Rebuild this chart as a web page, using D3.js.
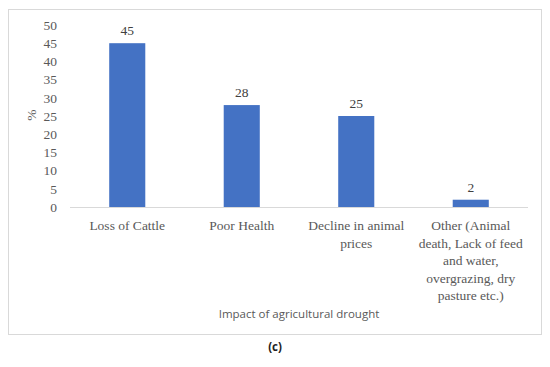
<!DOCTYPE html>
<html><head><meta charset="utf-8">
<script src="https://cdn.jsdelivr.net/npm/d3@7"></script>
<style>body{margin:0;background:#fff}svg{display:block}</style>
</head><body>
<script>
const categories = ["Loss of Cattle", "Poor Health", "Decline in animal\nprices", "Other (Animal\ndeath, Lack of feed\nand water,\novergrazing, dry\npasture etc.)"];
const values = [45, 28, 25, 2];
const yTicks = [0, 5, 10, 15, 20, 25, 30, 35, 40, 45, 50];
const yLabel = "%";
const xTitle = "Impact of agricultural drought";
const caption = "(c)";

const W = 550, H = 367;
const svg = d3.select("body").append("svg").attr("width", W).attr("height", H);
svg.append("rect").attr("x", 8.5).attr("y", 9.5).attr("width", 533).attr("height", 325)
  .attr("fill", "#fff").attr("stroke", "#d9d9d9").attr("stroke-width", 1);

const serif = "'Liberation Serif', 'Times New Roman', serif";
const x = d3.scaleBand().domain(categories).range([70, 528]).paddingInner(0.685).paddingOuter(0.3425);
const y = d3.scaleLinear().domain([0, 50]).range([207, 25]);

// y axis ticks
const ya = svg.append("g").attr("transform", "translate(70,0)")
  .call(d3.axisLeft(y).tickValues(yTicks).tickSize(0).tickPadding(13));
ya.select(".domain").remove();
ya.selectAll("text").attr("font-family", serif).attr("font-size", 13.5).attr("fill", "#595959");

// baseline
svg.append("line").attr("x1", 70).attr("x2", 528).attr("y1", y(0) + 0.5).attr("y2", y(0) + 0.5)
  .attr("stroke", "#d9d9d9").attr("stroke-width", 1);

// bars
svg.selectAll("rect.bar").data(values).join("rect").attr("class", "bar")
  .attr("x", (d, i) => x(categories[i])).attr("width", x.bandwidth())
  .attr("y", d => y(d)).attr("height", d => y(0) - y(d)).attr("fill", "#4472C4");

// value labels
svg.selectAll("text.val").data(values).join("text").attr("class", "val")
  .attr("x", (d, i) => x(categories[i]) + x.bandwidth() / 2).attr("y", d => y(d) - 8)
  .attr("text-anchor", "middle").attr("font-family", serif).attr("font-size", 13.5)
  .attr("fill", "#404040").text(d => d);

// category labels
const cl = svg.selectAll("text.cat").data(categories).join("text").attr("class", "cat")
  .attr("text-anchor", "middle").attr("font-family", serif).attr("font-size", 13.5).attr("fill", "#595959");
cl.each(function(c) {
  const t = d3.select(this);
  const cx = x(c) + x.bandwidth() / 2;
  c.split("\n").forEach((ln, k) => {
    t.append("tspan").attr("x", cx).attr("y", 230 + k * 17.5).text(ln);
  });
});

// y axis label
svg.append("text").attr("transform", "translate(36,115) rotate(-90)").attr("text-anchor", "middle")
  .attr("font-family", serif).attr("font-size", 13.5).attr("fill", "#595959").text(yLabel);

// x title
svg.append("text").attr("x", 299).attr("y", 318).attr("text-anchor", "middle")
  .attr("font-family", "'Open Sans', 'Liberation Sans', sans-serif").attr("font-size", 11.5)
  .attr("fill", "#595959").text(xTitle);

// caption
svg.append("text").attr("x", 275).attr("y", 351).attr("text-anchor", "middle")
  .attr("font-family", "'Open Sans', 'Liberation Sans', sans-serif").attr("font-size", 11.5)
  .attr("font-weight", "bold").attr("fill", "#222").text(caption);
</script>
</body></html>
